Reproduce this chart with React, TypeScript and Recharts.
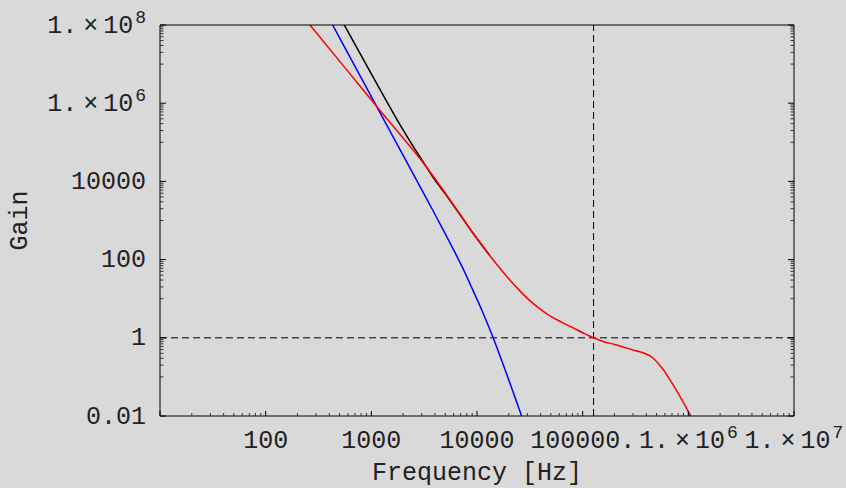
import React from "react";
import { LineChart, Line, XAxis, YAxis, ReferenceLine } from "recharts";

// ---- axis ticks ----
const xMajorTicks = [10, 100, 1000, 10000, 100000, 1000000, 10000000];
const xTickLabels = ["", "100", "1000", "10000", "100000.", "1.×10^6", "1.×10^7"];
const yMajorTicks = [0.01, 1, 100, 10000, 1000000, 100000000];
const yTickLabels = ["0.01", "1", "100", "10000", "1.×10^6", "1.×10^8"];

// ---- series (frequency in Hz, gain) ----
const blackFreq = [554.6, 1000, 1866, 2317, 2992, 3855, 5012, 6310, 8750, 13243];
const blackGain = [1e8, 5.623e6, 2.818e5, 1.072e5, 3.631e4, 1.259e4, 4786, 1995, 562.3, 125.9];

const blueFreq = [430.5, 1122, 1995, 3581, 5012, 6166, 7586, 9204, 11220, 14223, 17783, 26424];
const blueGain = [1e8, 8.318e5, 4.677e4, 2512, 457.1, 154.9, 50.12, 15.85, 4.786, 1, 0.1995, 0.01];

const redFreq = [
  262.4, 562.3, 1161, 1995, 2992, 3981, 4457, 6310, 8750, 10715, 13243, 18197, 25468, 31623, 38019,
  48978, 63096, 81470, 100000, 126765, 158489, 199526, 241546, 316228, 388150, 426580, 481948, 524807,
  578096, 668344, 794328, 1054386,
];
const redGain = [
  1e8, 8.13e6, 7.41e5, 1.288e5, 3.388e4, 1.202e4, 7852, 2042, 571.5, 269.2, 125.9, 43.65, 15.85, 8.913,
  5.888, 3.631, 2.512, 1.778, 1.349, 1, 0.7943, 0.6761, 0.5821, 0.4677, 0.3981, 0.3548, 0.2754, 0.2138,
  0.1549, 0.0851, 0.0398, 0.01,
];

const crossoverFreq = 126800;
const unityGain = 1;

const toData = (f: number[], g: number[]) => f.map((v, i) => ({ f: v, g: g[i] }));
const blackData = toData(blackFreq, blackGain);
const blueData = toData(blueFreq, blueGain);
const redData = toData(redFreq, redGain);

const xDomain: [number, number] = [10, 1e7];
const yDomain: [number, number] = [0.01, 1e8];

// x: decade ticks with minors k*10^n (k=2..9)
const xTicks = (() => {
  const out: number[] = [];
  xMajorTicks.forEach((m) => {
    out.push(m);
    if (m < xDomain[1]) for (let k = 2; k <= 9; k++) out.push(m * k);
  });
  return out.sort((a, b) => a - b);
})();
// y: each labelled decade gets minors k*10^(n-1) (k=1..9)
const yTicks = (() => {
  const out: number[] = [];
  yMajorTicks.forEach((m) => {
    out.push(m);
    for (let k = 1; k <= 9; k++) {
      const v = (m / 10) * k;
      if (v >= yDomain[0] * 0.999) out.push(v);
    }
  });
  return Array.from(new Set(out)).sort((a, b) => a - b);
})();

const FONT = "'Liberation Mono', 'Courier New', monospace";
const TXT = "#222";

const findMajor = (v: number, majors: number[]) =>
  majors.findIndex((m) => Math.abs(Math.log10(v) - Math.log10(m)) < 1e-6);

function renderLabel(label: string, x: number, y: number, anchor: "middle" | "end") {
  const parts = label.split("^");
  if (parts.length < 2) {
    return (
      <text x={x} y={y} textAnchor={anchor} fontFamily={FONT} fontSize={25} fill={TXT}>
        {label}
      </text>
    );
  }
  const [mant, pow] = parts[0].split("×");
  return (
    <text x={x} y={y} textAnchor={anchor} fontFamily={FONT} fontSize={25} fill={TXT}>
      <tspan>{mant}</tspan>
      <tspan dx={6}>×</tspan>
      <tspan dx={5}>{pow}</tspan>
      <tspan dx={2} dy={-10} fontSize={18}>
        {parts[1]}
      </tspan>
    </text>
  );
}

const BottomTick = (p: any) => {
  const { x, y, payload } = p;
  const idx = findMajor(payload.value, xMajorTicks);
  const major = idx >= 0;
  return (
    <g>
      <line x1={x} x2={x} y1={y} y2={y - (major ? 5 : 3)} stroke={major ? "#000" : "#333"} strokeWidth={1} />
      {major && xTickLabels[idx] ? renderLabel(xTickLabels[idx], x, y + 32, "middle") : null}
    </g>
  );
};

const TopTick = (p: any) => {
  const { x, y, payload } = p;
  const major = findMajor(payload.value, xMajorTicks) >= 0;
  return <line x1={x} x2={x} y1={y} y2={y + (major ? 5 : 3)} stroke={major ? "#000" : "#333"} strokeWidth={1} />;
};

const LeftTick = (p: any) => {
  const { x, y, payload } = p;
  const idx = findMajor(payload.value, yMajorTicks);
  const major = idx >= 0;
  return (
    <g>
      <line x1={x} x2={x + (major ? 6 : 3.5)} y1={y} y2={y} stroke={major ? "#000" : "#333"} strokeWidth={1} />
      {major ? renderLabel(yTickLabels[idx], x - 14, y + 7.6, "end") : null}
    </g>
  );
};

const RightTick = (p: any) => {
  const { x, y, payload } = p;
  const major = findMajor(payload.value, yMajorTicks) >= 0;
  return <line x1={x} x2={x - (major ? 6 : 3.5)} y1={y} y2={y} stroke={major ? "#000" : "#333"} strokeWidth={1} />;
};

const XLabel = (p: any) => {
  const vb = p.viewBox || { x: 160, y: 416, width: 634, height: 72 };
  return (
    <text x={vb.x + vb.width / 2} y={vb.y + 64} textAnchor="middle" fontFamily={FONT} fontSize={25} fill={TXT}>
      Frequency [Hz]
    </text>
  );
};

const YLabel = (p: any) => {
  const vb = p.viewBox || { x: 0, y: 25, width: 160, height: 391 };
  const cy = vb.y + vb.height / 2;
  return (
    <text
      x={0}
      y={0}
      transform={`translate(${vb.x + 27}, ${cy}) rotate(-90)`}
      textAnchor="middle"
      fontFamily={FONT}
      fontSize={25}
      fill={TXT}
    >
      Gain
    </text>
  );
};

export default function App() {
  return (
    <div style={{ position: "absolute", left: 0, top: 0, width: 846, height: 488, background: "#d9d9d9" }}>
      <LineChart width={846} height={488} margin={{ top: 0, right: 0, bottom: 0, left: 0 }}>
        <XAxis
          xAxisId="x"
          dataKey="f"
          type="number"
          scale="log"
          domain={xDomain}
          allowDataOverflow
          ticks={xTicks}
          interval={0}
          height={72}
          tickSize={0}
          tickMargin={0}
          axisLine={{ stroke: "#000", strokeWidth: 1 }}
          tickLine={false}
          tick={(p: any) => <BottomTick {...p} />}
          label={(p: any) => <XLabel {...p} />}
        />
        <XAxis
          xAxisId="top"
          orientation="top"
          type="number"
          scale="log"
          domain={xDomain}
          allowDataOverflow
          ticks={xTicks}
          interval={0}
          height={25}
          tickSize={0}
          tickMargin={0}
          axisLine={{ stroke: "#000", strokeWidth: 1 }}
          tickLine={false}
          tick={(p: any) => <TopTick {...p} />}
        />
        <YAxis
          yAxisId="y"
          dataKey="g"
          type="number"
          scale="log"
          domain={yDomain}
          allowDataOverflow
          ticks={yTicks}
          interval={0}
          width={160}
          tickSize={0}
          tickMargin={0}
          axisLine={{ stroke: "#000", strokeWidth: 1 }}
          tickLine={false}
          tick={(p: any) => <LeftTick {...p} />}
          label={(p: any) => <YLabel {...p} />}
        />
        <YAxis
          yAxisId="right"
          orientation="right"
          type="number"
          scale="log"
          domain={yDomain}
          allowDataOverflow
          ticks={yTicks}
          interval={0}
          width={52}
          tickSize={0}
          tickMargin={0}
          axisLine={{ stroke: "#000", strokeWidth: 1 }}
          tickLine={false}
          tick={(p: any) => <RightTick {...p} />}
        />
        <ReferenceLine xAxisId="x" yAxisId="y" y={unityGain} stroke="#000" strokeWidth={1} strokeDasharray="7 4" />
        <ReferenceLine xAxisId="x" yAxisId="y" x={crossoverFreq} stroke="#000" strokeWidth={1} strokeDasharray="7 4" />
        <Line xAxisId="x" yAxisId="y" data={blackData} dataKey="g" type="monotone" stroke="#000" strokeWidth={1.5} dot={false} activeDot={false} isAnimationActive={false} />
        <Line xAxisId="x" yAxisId="y" data={blueData} dataKey="g" type="monotone" stroke="#0000ff" strokeWidth={1.5} dot={false} activeDot={false} isAnimationActive={false} />
        <Line xAxisId="x" yAxisId="y" data={redData} dataKey="g" type="monotone" stroke="#ff0000" strokeWidth={1.5} dot={false} activeDot={false} isAnimationActive={false} />
      </LineChart>
    </div>
  );
}
